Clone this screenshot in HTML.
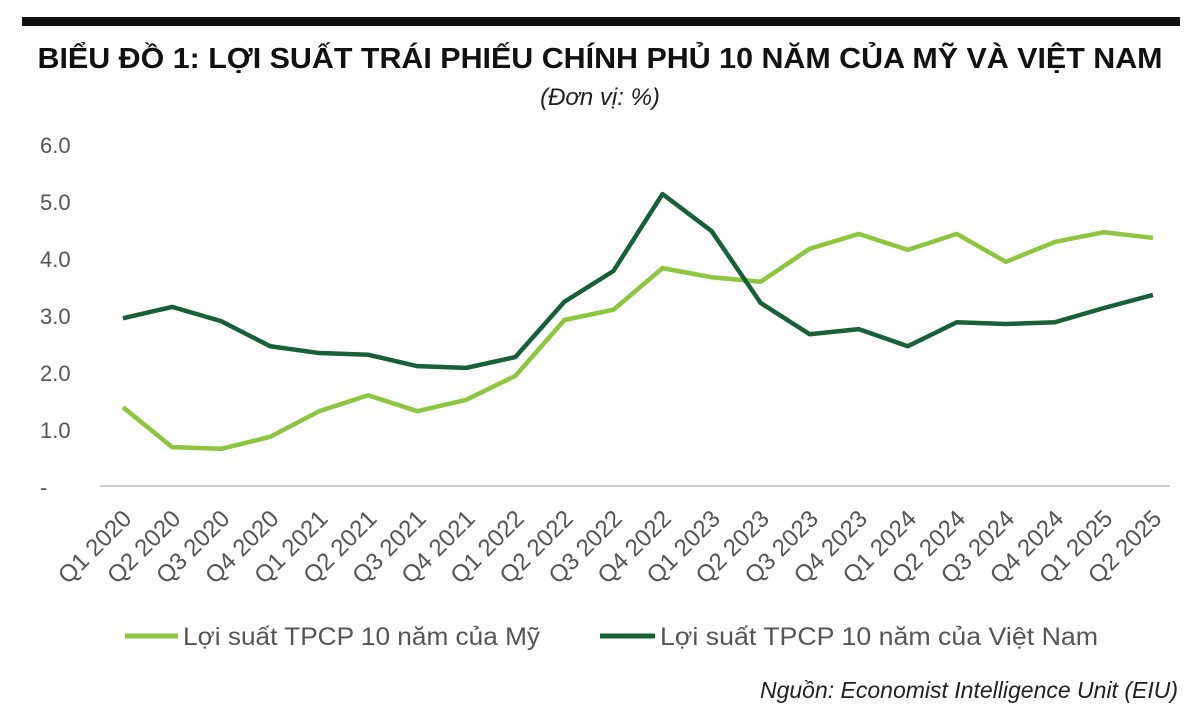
<!DOCTYPE html>
<html><head><meta charset="utf-8"><style>
body{margin:0;background:#fff;width:1200px;height:721px;overflow:hidden;font-family:"Liberation Sans",sans-serif}
</style></head><body>
<svg width="1200" height="721">
<rect x="22" y="17" width="1158" height="9" fill="#111"/>
<text x="600" y="68" text-anchor="middle" font-size="29" font-weight="bold" fill="#111" textLength="1125" lengthAdjust="spacingAndGlyphs">BIỂU ĐỒ 1: LỢI SUẤT TRÁI PHIẾU CHÍNH PHỦ 10 NĂM CỦA MỸ VÀ VIỆT NAM</text>
<text x="600" y="105" text-anchor="middle" font-size="24" font-style="italic" fill="#222">(Đơn vị: %)</text>
<line x1="100" y1="486" x2="1170" y2="486" stroke="#d0d0d0" stroke-width="2"/>
<g id="yt"></g><g id="xt"></g><g id="lines"></g>
<line x1="125" y1="636" x2="178" y2="636" stroke="#8dc63f" stroke-width="5"/>
<text x="183" y="645" font-size="25" fill="#555" textLength="357" lengthAdjust="spacingAndGlyphs">Lợi suất TPCP 10 năm của Mỹ</text>
<line x1="600" y1="636" x2="655" y2="636" stroke="#17603a" stroke-width="5"/>
<text x="660" y="645" font-size="25" fill="#555" textLength="438" lengthAdjust="spacingAndGlyphs">Lợi suất TPCP 10 năm của Việt Nam</text>
<text x="1178" y="698" text-anchor="end" font-size="23" font-style="italic" fill="#222">Nguồn: Economist Intelligence Unit (EIU)</text>
</svg>
<script>
const categories=["Q1 2020","Q2 2020","Q3 2020","Q4 2020","Q1 2021","Q2 2021","Q3 2021","Q4 2021","Q1 2022","Q2 2022","Q3 2022","Q4 2022","Q1 2023","Q2 2023","Q3 2023","Q4 2023","Q1 2024","Q2 2024","Q3 2024","Q4 2024","Q1 2025","Q2 2025"];
const usValues=[1.40,0.70,0.67,0.88,1.33,1.61,1.33,1.53,1.95,2.93,3.11,3.84,3.68,3.60,4.18,4.44,4.16,4.44,3.95,4.30,4.47,4.37];
const vnValues=[2.96,3.16,2.91,2.47,2.35,2.32,2.12,2.09,2.28,3.25,3.79,5.14,4.49,3.23,2.68,2.77,2.47,2.89,2.86,2.89,3.14,3.37];
const yTicks=[0,1,2,3,4,5,6];
const yTickLabels=["-","1.0","2.0","3.0","4.0","5.0","6.0"];
const NS="http://www.w3.org/2000/svg";
const yS=v=>487-57*v;
const xS=i=>123+i*(1153-123)/(categories.length-1);
const yt=document.getElementById('yt'),xt=document.getElementById('xt'),lg=document.getElementById('lines');
yTicks.forEach((v,i)=>{const t=document.createElementNS(NS,'text');


t.setAttribute('x',40);t.setAttribute('y',yS(v)+8);t.setAttribute('font-size','22');t.setAttribute('fill','#555');
t.textContent=yTickLabels[i];yt.appendChild(t);});
categories.forEach((c,i)=>{const t=document.createElementNS(NS,'text');


const x=xS(i)+10,y=520;t.setAttribute('x',x);t.setAttribute('y',y);t.setAttribute('text-anchor','end');
t.setAttribute('font-size','24');t.setAttribute('fill','#555');t.setAttribute('transform',`rotate(-45 ${x} ${y})`);
t.textContent=c;xt.appendChild(t);});
function line(vals,col,name){const p=document.createElementNS(NS,'polyline');


p.setAttribute('points',vals.map((v,i)=>xS(i)+','+yS(v)).join(' '));
p.setAttribute('fill','none');p.setAttribute('stroke',col);p.setAttribute('stroke-width','4.5');p.setAttribute('stroke-linejoin','round');
lg.appendChild(p);}
line(usValues,'#8dc63f','us-yield-line');
line(vnValues,'#17603a','vn-yield-line');
</script>
</body></html>
